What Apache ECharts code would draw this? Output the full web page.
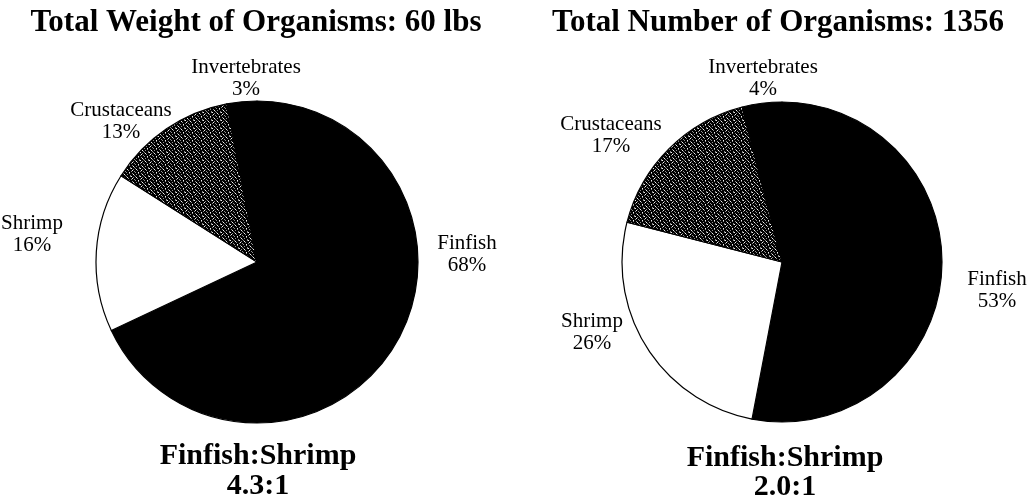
<!DOCTYPE html>
<html>
<head>
<meta charset="utf-8">
<script src="https://cdn.jsdelivr.net/npm/echarts@6/dist/echarts.min.js"></script>
<style>
  html, body { margin: 0; padding: 0; background: #fff; }
  #chart { width: 1034px; height: 501px; }
</style>
</head>
<body>
<div id="chart"></div>
<script>
// ---- data ----
const categories = ['Finfish', 'Shrimp', 'Crustaceans', 'Invertebrates'];
const weightPct = [68, 16, 13, 3];     // share of total weight (%)
const countPct = [53, 26, 17, 4];      // share of total count (%)
const weightTitle = 'Total Weight of Organisms: 60 lbs';
const countTitle = 'Total Number of Organisms: 1356';
const ratioCaption = 'Finfish:Shrimp';
const weightRatio = '4.3:1';
const countRatio = '2.0:1';

// ---- layout ----
const SERIF = '"Liberation Serif", "Times New Roman", serif';
const pieGeom = [
  { cx: 257, cy: 262, r: 161 },
  { cx: 782, cy: 262, r: 160 }
];
// label block centres, relative to each pie centre (px)
const labelPlacement = [
  [[210, -8], [-225, -28], [-136, -141], [-11, -184]],
  [[215, 28], [-190, 70], [-171, -127], [-19, -184]]
];

// dark, uneven stipple used for the crustacean wedge
function stipple() {
  const w = 9, h = 8;
  const c = document.createElement('canvas');
  c.width = w; c.height = h;
  const g = c.getContext('2d');
  g.fillStyle = '#000';
  g.fillRect(0, 0, w, h);
  g.fillStyle = '#8f8f8f';
  [[0, 0], [4, 0], [7, 1], [2, 2], [5, 3], [8, 3], [0, 4], [3, 5],
   [6, 5], [1, 6], [8, 7], [4, 7]].forEach(p => g.fillRect(p[0], p[1], 1, 1));
  g.fillStyle = '#f0f0f0';
  [[1, 1], [6, 2], [3, 4], [7, 6], [5, 0]].forEach(p => g.fillRect(p[0], p[1], 1, 1));
  return c;
}
const dotFill = { image: stipple(), repeat: 'repeat' };
const sliceFills = ['#000000', '#ffffff', dotFill, '#000000'];

function pieSeries(values, idx) {
  const g = pieGeom[idx];
  return {
    type: 'pie',
    center: [g.cx, g.cy],
    radius: g.r,
    startAngle: 90,
    clockwise: true,
    silent: true,
    animation: false,
    emphasis: { disabled: true },
    itemStyle: { borderColor: '#000', borderWidth: 1.2 },
    labelLine: { show: false },
    label: {
      show: true,
      position: 'inside',
      overflow: 'none',
      formatter: '{t|{b}}\n{t|{c}%}',
      rich: {
        t: { align: 'center', fontFamily: SERIF, fontSize: 21, lineHeight: 22, color: '#000' }
      }
    },
    labelLayout: function (p) {
      const off = labelPlacement[idx][p.dataIndex];
      return { x: g.cx + off[0], y: g.cy + off[1], align: 'center', verticalAlign: 'middle' };
    },
    data: categories.map((name, i) => ({
      name: name,
      value: values[i],
      itemStyle: { color: sliceFills[i] }
    }))
  };
}

function caption(text, x, y, size) {
  return {
    type: 'text',
    x: x, y: y,
    silent: true,
    style: {
      text: text,
      font: 'bold ' + size + 'px ' + SERIF,
      fill: '#000',
      textAlign: 'center',
      textVerticalAlign: 'middle',
      align: 'center',
      verticalAlign: 'middle'
    }
  };
}

const chart = echarts.init(document.getElementById('chart'), null, { renderer: 'canvas' });
chart.setOption({
  backgroundColor: '#fff',
  animation: false,
  graphic: [
    caption(weightTitle, 256, 23, 31),
    caption(countTitle, 778, 23, 31),
    caption(ratioCaption, 258, 456, 30),
    caption(weightRatio, 258, 486, 30),
    caption(ratioCaption, 785, 458, 30),
    caption(countRatio, 785, 487, 30)
  ],
  series: [pieSeries(weightPct, 0), pieSeries(countPct, 1)]
});
</script>
</body>
</html>
